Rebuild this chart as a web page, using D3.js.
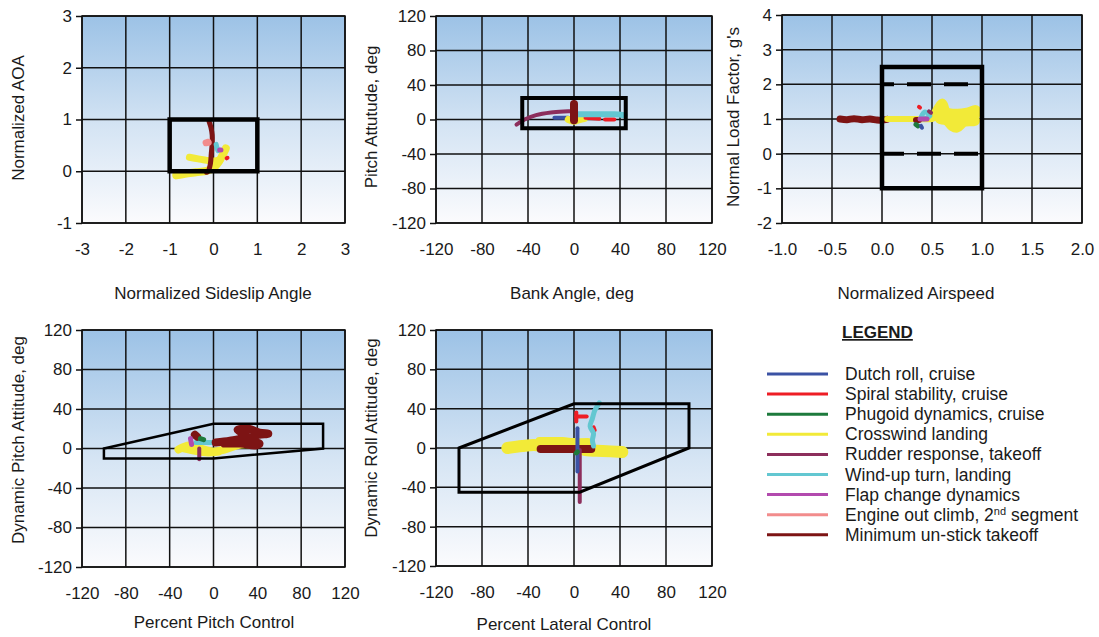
<!DOCTYPE html>
<html>
<head>
<script src="https://d3js.org/d3.v7.min.js"></script>
<style>
  body { margin: 0; background: #fff; }
  text { font-family: "Liberation Sans", Arial, sans-serif; fill: #1a1a1a; }
</style>
</head>
<body>
<div id="chart"></div>
<script>
// series names (legend order) and their colours
var seriesNames = ["Dutch roll, cruise", "Spiral stability, cruise", "Phugoid dynamics, cruise",
  "Crosswind landing", "Rudder response, takeoff", "Wind-up turn, landing",
  "Flap change dynamics", "Engine out climb, 2nd segment", "Minimum un-stick takeoff"];
var seriesColors = ["#3b52a4", "#ee1d25", "#1d7a3c", "#f2ea38", "#8c2e5c", "#63c7d1", "#b24aae", "#f28c8c", "#7d1414"];

// tick values
var sideslipTicks = [-3, -2, -1, 0, 1, 2, 3];
var aoaTicks = [-1, 0, 1, 2, 3];
var degTicks = [-120, -80, -40, 0, 40, 80, 120];
var airspeedTicks = [-1.0, -0.5, 0.0, 0.5, 1.0, 1.5, 2.0];
var loadTicks = [-2, -1, 0, 1, 2, 3, 4];

// envelopes [x, y]
var envSideslip = [[-1, 0], [1, 0], [1, 1], [-1, 1]];
var envBank = [[-45, -10], [45, -10], [45, 25], [-45, 25]];
var envAirspeed = [[0, -1], [1, -1], [1, 2.5], [0, 2.5]];
var envAirspeedDash = [[[0, 2], [1, 2]], [[0, 0], [1, 0]]];
var envPitch = [[-100, 0], [0, 25], [100, 25], [100, 0], [0, -10], [-100, -10]];
var envRoll = [[-100, 0], [0, 45], [100, 45], [100, 0], [5, -45], [-100, -45]];

// traces: series index + points [x, y]
var tracesSideslip = [
  {s: 3, pts: [[-0.85, -0.08], [-0.65, -0.05], [-0.4, -0.02], [-0.15, 0.01], [0.02, 0.08], [0.12, 0.18], [0.2, 0.3], [0.28, 0.44]]},
  {s: 3, pts: [[-0.55, 0.27], [-0.35, 0.24], [-0.15, 0.21], [0.0, 0.2], [0.15, 0.22]]},
  {s: 8, pts: [[-0.1, 0.96], [-0.06, 0.85], [-0.03, 0.7], [-0.03, 0.54], [-0.05, 0.35], [-0.07, 0.15], [-0.12, 0.0], [-0.16, -0.02]]},
  {s: 7, pts: [[-0.17, 0.55], [-0.12, 0.56]]},
  {s: 5, pts: [[0.06, 0.52], [0.08, 0.45], [0.1, 0.4]]},
  {s: 6, pts: [[0.14, 0.41], [0.17, 0.41]]},
  {s: 1, pts: [[0.3, 0.25], [0.32, 0.26]]}
];
var tracesBank = [
  {s: 4, pts: [[-50, -6], [-43, 0], [-33, 5], [-20, 8], [-5, 9.5], [0, 10]]},
  {s: 0, pts: [[-17, 2], [-5, 2]]},
  {s: 3, pts: [[-5, 0], [0, -2], [5, 0], [9, 1]]},
  {s: 1, pts: [[10, 2], [22, 1]]},
  {s: 1, pts: [[27, 0], [35, 0]]},
  {s: 5, pts: [[2, 6], [20, 6], [35, 6], [44, 5]]},
  {s: 8, pts: [[0, -1], [0, 8], [0, 18]]}
];
var tracesAirspeed = [
  {s: 8, pts: [[-0.42, 1.0], [-0.35, 0.98], [-0.28, 1.01], [-0.2, 0.98], [-0.12, 1.0], [-0.05, 0.97], [0.0, 0.97], [0.05, 0.99]]},
  {s: 3, pts: [[0.05, 1.0], [0.2, 1.0], [0.35, 1.0], [0.5, 1.0], [0.55, 1.08]]},
  {s: 3, pts: [[0.53, 1.1], [0.6, 1.45], [0.64, 1.2], [0.75, 1.15], [0.85, 1.18], [0.94, 1.25], [0.92, 1.0], [0.93, 0.95], [0.82, 0.92], [0.75, 0.75], [0.7, 0.8], [0.65, 0.95], [0.58, 1.0], [0.7, 1.05], [0.8, 1.05], [0.9, 1.05], [0.7, 0.9]]},
  {s: 8, pts: [[0.34, 0.97], [0.37, 0.97]]},
  {s: 2, pts: [[0.34, 0.84], [0.36, 0.8]]},
  {s: 0, pts: [[0.39, 0.8], [0.4, 0.75]]},
  {s: 1, pts: [[0.37, 1.35], [0.38, 1.33]]},
  {s: 5, pts: [[0.39, 1.05], [0.43, 1.2], [0.48, 1.1], [0.42, 1.0]]},
  {s: 6, pts: [[0.38, 1.0], [0.45, 1.0]]},
  {s: 4, pts: [[0.47, 1.22], [0.49, 1.18]]}
];
var tracesPitch = [
  {s: 3, pts: [[-32, -1], [-22, 3], [-12, 0], [0, -3], [10, -1], [25, 4], [35, 4]]},
  {s: 3, pts: [[-30, 0], [-18, -3], [-5, -5], [5, -4]]},
  {s: 5, pts: [[-16, 6], [-5, 6], [5, 6]]},
  {s: 8, pts: [[-17, 14], [-15, 12]]},
  {s: 8, pts: [[2, 6], [15, 8], [25, 10], [30, 13], [22, 19], [32, 20], [42, 16], [50, 15], [38, 13], [32, 9], [42, 5], [38, 3], [25, 5], [10, 5]]},
  {s: 2, pts: [[-12, 10], [-9, 9]]},
  {s: 6, pts: [[-21, 10], [-20, 4]]},
  {s: 4, pts: [[-13, 0], [-13, -11]]}
];
var tracesRoll = [
  {s: 3, pts: [[-58, 0], [-45, 2], [-35, 3], [-25, 2], [-10, 2], [0, 1], [10, -2], [25, -3], [42, -4]]},
  {s: 3, pts: [[-30, 7], [-10, 7], [0, 6], [12, 6]]},
  {s: 8, pts: [[-29, -1], [15, -1]]},
  {s: 4, pts: [[5, -2], [5, -55]]},
  {s: 0, pts: [[3, 20], [3, -24]]},
  {s: 1, pts: [[2, 36], [2, 27]]},
  {s: 1, pts: [[2, 32], [11, 32]]},
  {s: 1, pts: [[17, 21], [18, 18]]},
  {s: 5, pts: [[22, 46], [18, 38], [16, 30], [14, 22], [17, 15], [16, 8], [17, 2]]},
  {s: 2, pts: [[2, -5], [3, -4]]}
];

// stroke widths by series, with per-panel overrides (trace index -> width)
var traceWidth = [4, 4, 5, 7, 4, 5, 5, 7, 6];
var widthOverride = [
  {0: 8, 1: 7, 2: 5},
  {6: 8, 5: 6},
  {0: 7, 1: 6, 2: 10},
  {0: 8, 1: 6, 4: 8, 3: 8},
  {0: 12, 1: 8, 2: 8}
];

var W = 1099, H = 637;
var svg = d3.select("#chart").append("svg").attr("width", W).attr("height", H);
var defs = svg.append("defs");
var grad = defs.append("linearGradient").attr("id", "bg").attr("x1", 0).attr("y1", 0).attr("x2", 0).attr("y2", 1);
grad.append("stop").attr("offset", "0%").attr("stop-color", "#9cc2e6");
grad.append("stop").attr("offset", "55%").attr("stop-color", "#d6e5f4");
grad.append("stop").attr("offset", "100%").attr("stop-color", "#fbfbfd");

var fmtInt = d => String(d);
var fmt1 = d => d.toFixed(1);

var panels = [
  {L: 82, T: 16, R: 345, B: 223, xd: [-3, 3], yd: [-1, 3], xt: sideslipTicks, yt: aoaTicks, xf: fmtInt,
   xTitle: "Normalized Sideslip Angle", yTitle: "Normalized AOA", xtx: 213, xty: 299, ytx: 24, yty: 118,
   env: envSideslip, envW: 4.5, traces: tracesSideslip},
  {L: 436, T: 16, R: 712, B: 223, xd: [-120, 120], yd: [-120, 120], xt: degTicks, yt: degTicks, xf: fmtInt,
   xTitle: "Bank Angle, deg", yTitle: "Pitch Attutude, deg", xtx: 572, xty: 299, ytx: 377, yty: 117,
   env: envBank, envW: 4, traces: tracesBank},
  {L: 782, T: 15, R: 1082, B: 223, xd: [-1, 2], yd: [-2, 4], xt: airspeedTicks, yt: loadTicks, xf: fmt1,
   xTitle: "Normalized Airspeed", yTitle: "Normal Load Factor, g's", xtx: 916, xty: 299, ytx: 739, yty: 117,
   env: envAirspeed, envW: 4.5, dash: envAirspeedDash, traces: tracesAirspeed},
  {L: 82, T: 330, R: 345, B: 567, xd: [-120, 120], yd: [-120, 120], xt: degTicks, yt: degTicks, xf: fmtInt,
   xTitle: "Percent Pitch Control", yTitle: "Dynamic Pitch Attitude, deg", xtx: 214, xty: 628, ytx: 24, yty: 440,
   env: envPitch, envW: 2.5, traces: tracesPitch},
  {L: 436, T: 330, R: 712, B: 566, xd: [-120, 120], yd: [-120, 120], xt: degTicks, yt: degTicks, xf: fmtInt,
   xTitle: "Percent Lateral Control", yTitle: "Dynamic Roll Attitude, deg", xtx: 564, xty: 630, ytx: 377, yty: 438,
   env: envRoll, envW: 3, traces: tracesRoll}
];

panels.forEach(function(p, pi) {
  var x = d3.scaleLinear().domain(p.xd).range([p.L, p.R]);
  var y = d3.scaleLinear().domain(p.yd).range([p.B, p.T]);
  var g = svg.append("g");

  g.append("rect").attr("x", p.L).attr("y", p.T).attr("width", p.R - p.L).attr("height", p.B - p.T)
    .attr("fill", "url(#bg)");

  // grid
  g.selectAll(".vg").data(p.xt).enter().append("line")
    .attr("x1", d => x(d)).attr("x2", d => x(d)).attr("y1", p.T).attr("y2", p.B)
    .attr("stroke", "#111").attr("stroke-width", 1.5);
  g.selectAll(".hg").data(p.yt).enter().append("line")
    .attr("x1", p.L).attr("x2", p.R).attr("y1", d => y(d)).attr("y2", d => y(d))
    .attr("stroke", "#111").attr("stroke-width", 1.5);

  // axes
  var ya = g.append("g").attr("transform", "translate(" + p.L + ",0)")
    .call(d3.axisLeft(y).tickValues(p.yt).tickFormat(fmtInt).tickSize(6).tickPadding(4));
  var xa = g.append("g").attr("transform", "translate(0," + p.B + ")")
    .call(d3.axisBottom(x).tickValues(p.xt).tickFormat(p.xf).tickSize(0).tickPadding(20));
  [ya, xa].forEach(function(a) {
    a.select(".domain").remove();
    a.selectAll("line").attr("stroke", "#111").attr("stroke-width", 1.5);
    a.selectAll("text").style("font-size", "17px").style("font-family", '"Liberation Sans", Arial, sans-serif').attr("fill", "#1a1a1a");
  });

  // titles
  g.append("text").attr("x", p.xtx).attr("y", p.xty).attr("text-anchor", "middle")
    .style("font-size", "17px").text(p.xTitle);
  g.append("text").attr("transform", "translate(" + p.ytx + "," + p.yty + ") rotate(-90)")
    .attr("text-anchor", "middle").style("font-size", "17px").text(p.yTitle);

  // traces
  var line = d3.line().x(d => x(d[0])).y(d => y(d[1])).curve(d3.curveCatmullRom.alpha(.5));
  p.traces.forEach(function(t, ti) {
    var w = widthOverride[pi][ti] !== undefined ? widthOverride[pi][ti] : traceWidth[t.s];
    g.append("path").datum(t.pts).attr("d", line)
      .attr("fill", "none").attr("stroke", seriesColors[t.s])
      .attr("stroke-width", w).attr("stroke-linecap", "round").attr("stroke-linejoin", "round");
  });

  // envelope
  g.append("path").datum(p.env)
    .attr("d", d3.line().x(d => x(d[0])).y(d => y(d[1])).curve(d3.curveLinearClosed))
    .attr("fill", "none").attr("stroke", "#000").attr("stroke-width", p.envW);
  if (p.dash) {
    p.dash.forEach(function(seg, i) {
      g.append("path").datum(seg)
        .attr("d", d3.line().x(d => x(d[0])).y(d => y(d[1])))
        .attr("fill", "none").attr("stroke", "#000").attr("stroke-width", 4)
        .attr("stroke-dasharray", "24,13").attr("stroke-dashoffset", i === 0 ? 12 : 2);
    });
  }

  // plot border
  g.append("rect").attr("x", p.L).attr("y", p.T).attr("width", p.R - p.L).attr("height", p.B - p.T)
    .attr("fill", "none").attr("stroke", "#111").attr("stroke-width", 1.5);
});

// legend
var lg = svg.append("g");
lg.append("text").attr("x", 842).attr("y", 338).style("font-size", "17px").style("font-weight", "bold")
  .attr("text-decoration", "underline").text("LEGEND");
var items = lg.selectAll(".item").data(seriesNames).enter().append("g")
  .attr("transform", (d, i) => "translate(0," + (374 + i * 20.1) + ")");
items.append("line").attr("x1", 767).attr("x2", 828).attr("y1", 0).attr("y2", 0)
  .attr("stroke", (d, i) => seriesColors[i]).attr("stroke-width", 3);
items.append("text").attr("x", 845).attr("y", 6).style("font-size", "17.5px")
  .each(function(d) {
    var t = d3.select(this);
    var m = d.match(/^(.*\d)(nd)( .*)$/);
    if (m) {
      t.append("tspan").text(m[1]);
      t.append("tspan").attr("dy", -6).style("font-size", "11px").text(m[2]);
      t.append("tspan").attr("dy", 6).text(m[3]);
    } else {
      t.text(d);
    }
  });
</script>
</body>
</html>
